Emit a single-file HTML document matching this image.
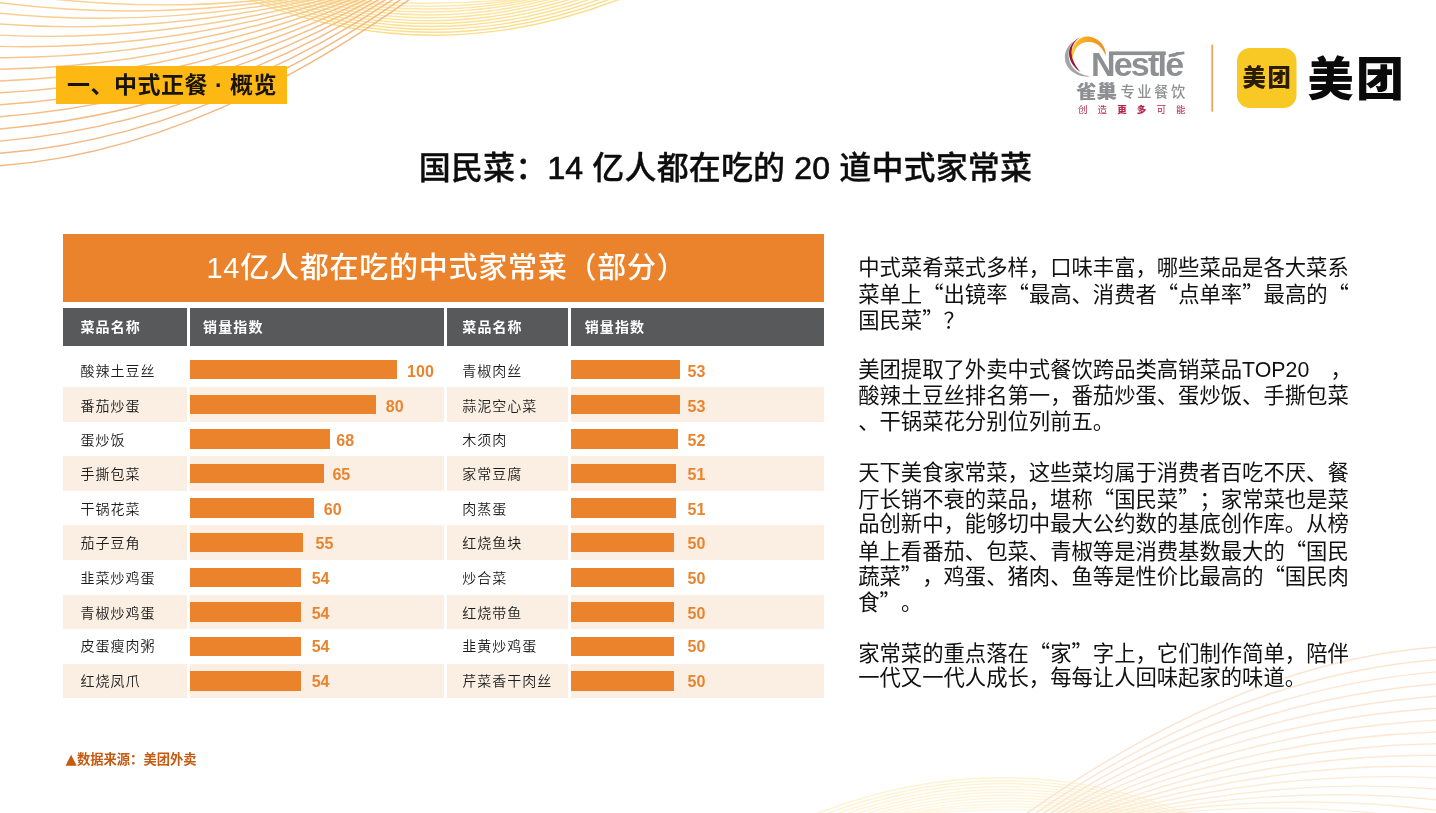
<!DOCTYPE html>
<html lang="zh-CN">
<head>
<meta charset="utf-8">
<title>国民菜：14 亿人都在吃的 20 道中式家常菜</title>
<style>
*{margin:0;padding:0;box-sizing:border-box}
html,body{width:1436px;height:813px;overflow:hidden;background:#fff}
body{position:relative;font-family:"Liberation Sans","Noto Sans CJK SC",sans-serif;color:#111}
.abs{position:absolute}
.q{font-family:"Noto Sans CJK SC",sans-serif}
#deco{left:0;top:0}
#tag{left:56px;top:65.5px;width:230.6px;height:38.8px;background:#fdb813;font-weight:700;font-size:23px;line-height:38px;padding-left:11px;white-space:nowrap;color:#1a1408;letter-spacing:.5px}
#title{left:0;top:143.5px;width:1451px;text-align:center;font-size:32px;line-height:48px;font-weight:500;white-space:nowrap;color:#0d0d0d;letter-spacing:.15px;-webkit-text-stroke:.3px #0d0d0d}
#title span{-webkit-text-stroke:.7px #0d0d0d}
#tbl{left:63px;top:234px;width:761px;height:465px}
#tbl .cap{left:0;top:0;width:761px;height:68.4px;background:#ea832b;color:#fff;font-size:29px;line-height:69px;text-align:center;letter-spacing:.75px;font-weight:500;padding-left:6px}
.th{top:73.8px;height:38px;background:#58595b;color:#fff;font-size:14px;font-weight:700;line-height:39.6px;letter-spacing:1.1px;white-space:nowrap}
.row{left:0;width:761px;height:34.6px}
.row.alt .c{background:#fbeee2}
.c{position:absolute;top:0;height:34.6px}
.nm{font-size:14px;line-height:38.6px;font-weight:350;letter-spacing:1px;color:#1c1c1c;padding-left:17.5px;white-space:nowrap}
.bar{position:absolute;left:0;top:7.6px;height:19.5px;background:#ea832b}
.val{position:absolute;top:0;margin-left:-.8px;line-height:39.4px;font-size:16px;font-weight:700;color:#e8842e}
#txt{left:858.2px;top:0;font-size:21.33px;color:#111;text-spacing-trim:space-all}
#txt div{position:absolute;left:0;white-space:nowrap;line-height:26px;height:26px}
#src{left:65.5px;top:749px;font-size:13.3px;line-height:20px;font-weight:700;color:#c55a11;white-space:nowrap}
#src i{font-style:normal;font-family:"DejaVu Sans",sans-serif;font-size:14.6px;margin-right:.2px;position:relative;top:.3px}
#logos{left:1050px;top:25px;width:386px;height:100px}
#nestle{left:41px;top:19px;font-size:34px;line-height:40px;font-weight:700;color:#8d8f92;letter-spacing:-1.8px;white-space:nowrap}
#qc{left:26px;top:54.8px;font-size:20.6px;line-height:24px;font-weight:900;color:#8d8f92;white-space:nowrap;transform:scaleY(.88);transform-origin:0 50%}
#zy{left:70.5px;top:57.3px;font-size:14.3px;line-height:20px;font-weight:500;color:#8d8f92;letter-spacing:2.5px;white-space:nowrap}
#cz{left:28px;top:77.6px;font-size:9.5px;line-height:14px;color:#b3264b;letter-spacing:10.1px;white-space:nowrap}
#cz b{font-weight:900}
#mt2 span{display:inline-block;transform:scaleX(1.04);transform-origin:0 50%}
#mt1{left:192.5px;top:35px;font-size:23.3px;line-height:36px;font-weight:900;color:#2a1c05;white-space:nowrap;letter-spacing:1.6px}
#mt2{left:257.5px;top:23.6px;font-size:46px;line-height:60px;font-weight:900;color:#0a0a0a;white-space:nowrap;letter-spacing:2.4px}
</style>
</head>
<body>
<svg id="deco" class="abs" width="1436" height="813" viewBox="0 0 1436 813" fill="none"><g stroke-width="1.45"><path d="M235.3 -5.9Q433.8 76.3 632.2 -5.9" stroke="#fbdd88"/><path d="M244.5 -5.4Q433.0 70.0 621.5 -5.4" stroke="#fbde8b"/><path d="M253.8 -4.9Q432.2 63.7 610.7 -4.9" stroke="#fbdf8f"/><path d="M263.0 -4.4Q431.5 57.4 600.0 -4.4" stroke="#fce092"/><path d="M272.3 -3.9Q430.8 51.1 589.2 -3.9" stroke="#fce196"/><path d="M281.5 -3.4Q430.0 44.8 578.5 -3.4" stroke="#fce299"/><path d="M290.7 -3.0Q429.2 38.6 567.8 -3.0" stroke="#fce49d"/><path d="M300.0 -2.5Q428.5 32.3 557.0 -2.5" stroke="#fce5a0"/><path d="M309.2 -2.0Q427.8 26.0 546.3 -2.0" stroke="#fce6a4"/><path d="M318.5 -1.5Q427.0 19.7 535.5 -1.5" stroke="#fde7a7"/><path d="M327.7 -1.0Q426.2 13.4 524.8 -1.0" stroke="#fde8ab"/><path d="M336.9 -0.5Q425.5 7.1 514.1 -0.5" stroke="#fde9ae"/><path d="M-2.0 -7.9C92.5 6.5 187.0 9.1 281.5 -2.0" stroke="#f9d192"/><path d="M-2.0 2.5C97.5 15.3 197.0 13.4 296.5 -2.1" stroke="#f9cf91"/><path d="M-2.0 13.1C101.7 23.9 205.3 17.7 309.0 -2.0" stroke="#f8cd90"/><path d="M-2.0 23.9C105.5 32.5 213.0 22.3 320.5 -2.1" stroke="#f8cc8e"/><path d="M-2.0 35.0C108.8 41.0 219.7 27.2 330.5 -2.0" stroke="#f7ca8d"/><path d="M-2.0 46.3C112.0 49.7 226.0 32.6 340.0 -2.1" stroke="#f7c88c"/><path d="M-2.0 57.7C114.7 58.4 231.3 38.5 348.0 -2.1" stroke="#f7c68b"/><path d="M-2.0 69.3C117.2 67.5 236.3 44.8 355.5 -2.1" stroke="#f6c48a"/><path d="M-2.0 81.0C119.5 76.8 241.0 51.5 362.5 -2.1" stroke="#f6c388"/><path d="M-2.0 92.9C121.7 86.5 245.3 58.5 369.0 -2.0" stroke="#f5c187"/><path d="M-2.0 104.9C123.8 96.6 249.7 65.6 375.5 -2.1" stroke="#f5bf86"/><path d="M-2.0 116.9C126.0 107.2 254.0 72.6 382.0 -2.2" stroke="#f5bd85"/><path d="M-2.0 129.1C128.2 118.4 258.3 79.5 388.5 -2.1" stroke="#f4bb84"/><path d="M-2.0 141.3C130.5 130.3 263.0 85.9 395.5 -2.2" stroke="#f4ba82"/><path d="M-2.0 153.5C133.0 142.9 268.0 91.5 403.0 -2.1" stroke="#f3b881"/><path d="M-2.0 165.8C135.8 156.3 273.7 95.9 411.5 -2.0" stroke="#f3b680"/></g><g stroke-width="1.45" opacity=".36" transform="rotate(180 718 406.5)"><path d="M235.3 -5.9Q433.8 76.3 632.2 -5.9" stroke="#fbdd88"/><path d="M244.5 -5.4Q433.0 70.0 621.5 -5.4" stroke="#fbde8b"/><path d="M253.8 -4.9Q432.2 63.7 610.7 -4.9" stroke="#fbdf8f"/><path d="M263.0 -4.4Q431.5 57.4 600.0 -4.4" stroke="#fce092"/><path d="M272.3 -3.9Q430.8 51.1 589.2 -3.9" stroke="#fce196"/><path d="M281.5 -3.4Q430.0 44.8 578.5 -3.4" stroke="#fce299"/><path d="M290.7 -3.0Q429.2 38.6 567.8 -3.0" stroke="#fce49d"/><path d="M300.0 -2.5Q428.5 32.3 557.0 -2.5" stroke="#fce5a0"/><path d="M309.2 -2.0Q427.8 26.0 546.3 -2.0" stroke="#fce6a4"/><path d="M318.5 -1.5Q427.0 19.7 535.5 -1.5" stroke="#fde7a7"/><path d="M327.7 -1.0Q426.2 13.4 524.8 -1.0" stroke="#fde8ab"/><path d="M336.9 -0.5Q425.5 7.1 514.1 -0.5" stroke="#fde9ae"/><path d="M-2.0 -7.9C92.5 6.5 187.0 9.1 281.5 -2.0" stroke="#f9d192"/><path d="M-2.0 2.5C97.5 15.3 197.0 13.4 296.5 -2.1" stroke="#f9cf91"/><path d="M-2.0 13.1C101.7 23.9 205.3 17.7 309.0 -2.0" stroke="#f8cd90"/><path d="M-2.0 23.9C105.5 32.5 213.0 22.3 320.5 -2.1" stroke="#f8cc8e"/><path d="M-2.0 35.0C108.8 41.0 219.7 27.2 330.5 -2.0" stroke="#f7ca8d"/><path d="M-2.0 46.3C112.0 49.7 226.0 32.6 340.0 -2.1" stroke="#f7c88c"/><path d="M-2.0 57.7C114.7 58.4 231.3 38.5 348.0 -2.1" stroke="#f7c68b"/><path d="M-2.0 69.3C117.2 67.5 236.3 44.8 355.5 -2.1" stroke="#f6c48a"/><path d="M-2.0 81.0C119.5 76.8 241.0 51.5 362.5 -2.1" stroke="#f6c388"/><path d="M-2.0 92.9C121.7 86.5 245.3 58.5 369.0 -2.0" stroke="#f5c187"/><path d="M-2.0 104.9C123.8 96.6 249.7 65.6 375.5 -2.1" stroke="#f5bf86"/><path d="M-2.0 116.9C126.0 107.2 254.0 72.6 382.0 -2.2" stroke="#f5bd85"/><path d="M-2.0 129.1C128.2 118.4 258.3 79.5 388.5 -2.1" stroke="#f4bb84"/><path d="M-2.0 141.3C130.5 130.3 263.0 85.9 395.5 -2.2" stroke="#f4ba82"/><path d="M-2.0 153.5C133.0 142.9 268.0 91.5 403.0 -2.1" stroke="#f3b881"/><path d="M-2.0 165.8C135.8 156.3 273.7 95.9 411.5 -2.0" stroke="#f3b680"/></g></svg>

<div id="tag" class="abs">一、中式正餐 · 概览</div>

<div id="logos" class="abs">
<svg class="abs" style="left:0;top:0" width="386" height="100" viewBox="1050 25 386 100">
  <defs><linearGradient id="og" x1="1072" y1="50" x2="1105" y2="45" gradientUnits="userSpaceOnUse"><stop offset="0" stop-color="#fdc52f"/><stop offset=".45" stop-color="#f8a81f"/><stop offset="1" stop-color="#ee8d1d"/></linearGradient></defs>
  <path d="M1073.9 41.1C1068 45 1064.5 52 1064.9 58C1065.3 68 1074 75.5 1085.6 76.6C1087 76.7 1089 76.6 1090.4 76.2C1083 75.5 1076 72 1072.5 67C1068.5 61.5 1067.5 53 1070 47C1071 44.5 1072.3 42.8 1073.9 41.1Z" fill="#a3a4a7"/>
  <path d="M1080.7 37C1074 40 1069 46 1069 53C1069 61 1074 68 1080.7 72.1C1076 67 1072.5 61 1071.8 54C1071 47 1074 41 1080.7 37Z" fill="#9c1638"/>
  <path d="M1105.7 56C1106.6 47.5 1099.5 38.2 1089 36.6C1080 35.6 1072.2 44 1071.8 52C1071.7 55 1072 57.5 1072.8 60C1073 52 1076 46.2 1082 43.3C1088 40.6 1096.5 41.6 1101.3 48C1103.6 51 1105 53.6 1105.7 56Z" fill="url(#og)"/>
  <rect x="1109" y="51.4" width="56.8" height="3.7" fill="#8d8f92"/>
  <path d="M1168.6 54.4C1173 53.2 1179 52.2 1184.3 51.6L1184.5 54.3C1179 55 1173 56.2 1168.9 57.6Z" fill="#8d8f92"/>
  <rect x="1211.3" y="44.7" width="1.9" height="67" fill="#eaa965"/>
  <rect x="1237" y="48" width="59.5" height="60" rx="13" ry="13" fill="#f8c925"/>
</svg>
<div class="abs" id="nestle">Nestlé</div>
<div class="abs" id="qc">雀巢</div>
<div class="abs" id="zy">专业餐饮</div>
<div class="abs" id="cz">创造<b>更多</b>可能</div>
<div class="abs" id="mt1">美团</div>
<div class="abs" id="mt2">美<span>团</span></div>
</div>

<div id="title" class="abs">国民菜：<span>14</span> 亿人都在吃的 <span>20</span> 道中式家常菜</div>

<div id="tbl" class="abs">
  <div class="cap abs">14亿人都在吃的中式家常菜（部分）</div>
  <div class="th abs" style="left:0.0px;width:124.0px;padding-left:17.5px">菜品名称</div>
  <div class="th abs" style="left:126.5px;width:254.2px;padding-left:13.6px">销量指数</div>
  <div class="th abs" style="left:383.6px;width:121.6px;padding-left:15.7px">菜品名称</div>
  <div class="th abs" style="left:507.8px;width:253.2px;padding-left:13.9px">销量指数</div>
  <div class="row abs" style="top:118.4px"><div class="c nm" style="left:0.0px;width:124.0px;line-height:38.60px">酸辣土豆丝</div><div class="c" style="left:126.5px;width:254.2px"><div class="bar" style="width:207.9px"></div><div class="val" style="left:218.4px;line-height:39.40px">100</div></div><div class="c nm" style="left:383.6px;width:121.6px;padding-left:15.7px;line-height:38.60px">青椒肉丝</div><div class="c" style="left:507.8px;width:253.2px"><div class="bar" style="width:109.6px"></div><div class="val" style="left:117.6px;line-height:39.40px">53</div></div></div>
  <div class="row abs alt" style="top:153.0px"><div class="c nm" style="left:0.0px;width:124.0px;line-height:38.26px">番茄炒蛋</div><div class="c" style="left:126.5px;width:254.2px"><div class="bar" style="width:186.7px"></div><div class="val" style="left:197.1px;line-height:39.06px">80</div></div><div class="c nm" style="left:383.6px;width:121.6px;padding-left:15.7px;line-height:38.26px">蒜泥空心菜</div><div class="c" style="left:507.8px;width:253.2px"><div class="bar" style="width:109.6px"></div><div class="val" style="left:117.6px;line-height:39.06px">53</div></div></div>
  <div class="row abs" style="top:187.6px"><div class="c nm" style="left:0.0px;width:124.0px;line-height:37.92px">蛋炒饭</div><div class="c" style="left:126.5px;width:254.2px"><div class="bar" style="width:140.5px"></div><div class="val" style="left:147.6px;line-height:38.72px">68</div></div><div class="c nm" style="left:383.6px;width:121.6px;padding-left:15.7px;line-height:37.92px">木须肉</div><div class="c" style="left:507.8px;width:253.2px"><div class="bar" style="width:107.4px"></div><div class="val" style="left:117.6px;line-height:38.72px">52</div></div></div>
  <div class="row abs alt" style="top:222.2px"><div class="c nm" style="left:0.0px;width:124.0px;line-height:37.58px">手撕包菜</div><div class="c" style="left:126.5px;width:254.2px"><div class="bar" style="width:134.4px"></div><div class="val" style="left:143.7px;line-height:38.38px">65</div></div><div class="c nm" style="left:383.6px;width:121.6px;padding-left:15.7px;line-height:37.58px">家常豆腐</div><div class="c" style="left:507.8px;width:253.2px"><div class="bar" style="width:105.2px"></div><div class="val" style="left:117.6px;line-height:38.38px">51</div></div></div>
  <div class="row abs" style="top:256.8px"><div class="c nm" style="left:0.0px;width:124.0px;line-height:37.24px">干锅花菜</div><div class="c" style="left:126.5px;width:254.2px"><div class="bar" style="width:124.1px"></div><div class="val" style="left:135.1px;line-height:38.04px">60</div></div><div class="c nm" style="left:383.6px;width:121.6px;padding-left:15.7px;line-height:37.24px">肉蒸蛋</div><div class="c" style="left:507.8px;width:253.2px"><div class="bar" style="width:105.2px"></div><div class="val" style="left:117.6px;line-height:38.04px">51</div></div></div>
  <div class="row abs alt" style="top:291.4px"><div class="c nm" style="left:0.0px;width:124.0px;line-height:36.90px">茄子豆角</div><div class="c" style="left:126.5px;width:254.2px"><div class="bar" style="width:113.7px"></div><div class="val" style="left:126.8px;line-height:37.70px">55</div></div><div class="c nm" style="left:383.6px;width:121.6px;padding-left:15.7px;line-height:36.90px">红烧鱼块</div><div class="c" style="left:507.8px;width:253.2px"><div class="bar" style="width:103.2px"></div><div class="val" style="left:117.6px;line-height:37.70px">50</div></div></div>
  <div class="row abs" style="top:326.0px"><div class="c nm" style="left:0.0px;width:124.0px;line-height:36.56px">韭菜炒鸡蛋</div><div class="c" style="left:126.5px;width:254.2px"><div class="bar" style="width:111.3px"></div><div class="val" style="left:123.0px;line-height:37.36px">54</div></div><div class="c nm" style="left:383.6px;width:121.6px;padding-left:15.7px;line-height:36.56px">炒合菜</div><div class="c" style="left:507.8px;width:253.2px"><div class="bar" style="width:103.2px"></div><div class="val" style="left:117.6px;line-height:37.36px">50</div></div></div>
  <div class="row abs alt" style="top:360.6px"><div class="c nm" style="left:0.0px;width:124.0px;line-height:36.22px">青椒炒鸡蛋</div><div class="c" style="left:126.5px;width:254.2px"><div class="bar" style="width:111.3px"></div><div class="val" style="left:123.0px;line-height:37.02px">54</div></div><div class="c nm" style="left:383.6px;width:121.6px;padding-left:15.7px;line-height:36.22px">红烧带鱼</div><div class="c" style="left:507.8px;width:253.2px"><div class="bar" style="width:103.2px"></div><div class="val" style="left:117.6px;line-height:37.02px">50</div></div></div>
  <div class="row abs" style="top:395.2px"><div class="c nm" style="left:0.0px;width:124.0px;line-height:35.88px">皮蛋瘦肉粥</div><div class="c" style="left:126.5px;width:254.2px"><div class="bar" style="width:111.3px"></div><div class="val" style="left:123.0px;line-height:36.68px">54</div></div><div class="c nm" style="left:383.6px;width:121.6px;padding-left:15.7px;line-height:35.88px">韭黄炒鸡蛋</div><div class="c" style="left:507.8px;width:253.2px"><div class="bar" style="width:103.2px"></div><div class="val" style="left:117.6px;line-height:36.68px">50</div></div></div>
  <div class="row abs alt" style="top:429.8px"><div class="c nm" style="left:0.0px;width:124.0px;line-height:35.54px">红烧凤爪</div><div class="c" style="left:126.5px;width:254.2px"><div class="bar" style="width:111.3px"></div><div class="val" style="left:123.0px;line-height:36.34px">54</div></div><div class="c nm" style="left:383.6px;width:121.6px;padding-left:15.7px;line-height:35.54px">芹菜香干肉丝</div><div class="c" style="left:507.8px;width:253.2px"><div class="bar" style="width:103.2px"></div><div class="val" style="left:117.6px;line-height:36.34px">50</div></div></div>
</div>

<div id="txt" class="abs">
  <div style="top:254.8px">中式菜肴菜式多样，口味丰富，哪些菜品是各大菜系</div>
  <div style="top:280.4px">菜单上<span class="q">“</span>出镜率<span class="q">“</span>最高、消费者<span class="q">“</span>点单率<span class="q">”</span>最高的<span class="q">“</span></div>
  <div style="top:306.0px">国民菜<span class="q">”</span>？</div>
  <div style="top:357.2px">美团提取了外卖中式餐饮跨品类高销菜品TOP20　，</div>
  <div style="top:382.9px">酸辣土豆丝排名第一，番茄炒蛋、蛋炒饭、手撕包菜</div>
  <div style="top:408.5px">、干锅菜花分别位列前五。</div>
  <div style="top:459.7px">天下美食家常菜，这些菜均属于消费者百吃不厌、餐</div>
  <div style="top:485.3px">厅长销不衰的菜品，堪称<span class="q">“</span>国民菜<span class="q">”</span>；家常菜也是菜</div>
  <div style="top:511.0px">品创新中，能够切中最大公约数的基底创作库。从榜</div>
  <div style="top:536.6px">单上看番茄、包菜、青椒等是消费基数最大的<span class="q">“</span>国民</div>
  <div style="top:562.2px">蔬菜<span class="q">”</span>，鸡蛋、猪肉、鱼等是性价比最高的<span class="q">“</span>国民肉</div>
  <div style="top:587.8px">食<span class="q">”</span>。</div>
  <div style="top:639.0px">家常菜的重点落在<span class="q">“</span>家<span class="q">”</span>字上，它们制作简单，陪伴</div>
  <div style="top:664.7px">一代又一代人成长，每每让人回味起家的味道。</div>
</div>

<div id="src" class="abs"><i>▲</i>数据来源：美团外卖</div>
</body>
</html>
